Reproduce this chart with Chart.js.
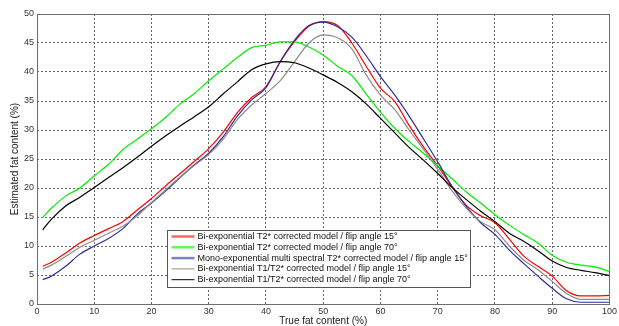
<!DOCTYPE html>
<html>
<head>
<meta charset="utf-8">
<script src="https://cdn.jsdelivr.net/npm/chart.js@4.4.1/dist/chart.umd.min.js"></script>
<style>
html, body { margin: 0; padding: 0; background: #fff; }
</style>
</head>
<body>
<canvas id="fatChart" width="619" height="326"></canvas>
<script>
// true fat content (%) sample positions
const trueFat = [1, 2.5, 5, 7.5, 10, 12.5, 15, 17.5, 20, 22.5, 25, 27.5, 30, 32.5, 35, 37.5, 40, 42.5, 45, 47.5,
  50, 52.5, 55, 57.5, 60, 62.5, 65, 67.5, 70, 72.5, 75, 77.5, 80, 82.5, 85, 87.5, 90, 92.5, 95, 97.5, 100];

const biT2_15 = [6.5, 7.2, 8.8, 10.5, 11.8, 13.0, 14.2, 16.2, 18.2, 20.4, 22.5, 24.6, 26.8, 29.6, 33.0, 35.6, 37.5, 41.8, 45.3, 47.9,
  48.7, 48.0, 45.0, 41.0, 37.2, 34.9, 30.8, 27.1, 23.8, 20.2, 17.0, 15.2, 14.0, 11.2, 8.3, 6.5, 4.8, 2.3, 1.4, 1.4, 1.5];
const biT2_70 = [14.9, 16.5, 18.6, 20.0, 22.1, 24.1, 26.6, 28.4, 30.2, 32.2, 34.5, 36.3, 38.5, 40.5, 42.5, 44.2, 44.6, 45.2, 45.2, 44.3,
  42.9, 41.0, 39.4, 36.2, 33.1, 30.3, 28.0, 26.0, 23.8, 21.6, 19.3, 17.4, 15.4, 13.6, 12.0, 10.5, 8.4, 7.2, 6.7, 6.4, 5.6];
const monoT2_15 = [4.2, 4.8, 6.5, 8.6, 10.0, 11.3, 13.0, 15.5, 17.4, 19.5, 21.8, 24.0, 26.0, 28.8, 32.4, 35.2, 37.3, 41.8, 45.5, 48.0,
  48.6, 47.8, 46.0, 42.8, 39.2, 36.0, 32.4, 28.5, 24.5, 20.3, 16.8, 14.0, 12.0, 9.3, 7.0, 4.8, 2.7, 0.9, 0.3, 0.3, 0.3];
const biT1T2_15 = [6.0, 6.7, 8.2, 9.8, 11.0, 12.2, 13.4, 15.2, 17.5, 19.7, 21.9, 23.9, 25.8, 28.4, 31.8, 34.3, 36.3, 38.5, 41.8, 45.0,
  46.4, 45.9, 44.0, 39.5, 36.0, 33.5, 30.0, 26.7, 23.2, 19.5, 16.5, 14.2, 12.8, 10.0, 7.6, 5.9, 3.9, 1.8, 0.8, 0.8, 0.8];
const biT1T2_70 = [12.8, 14.6, 16.9, 18.4, 20.1, 21.8, 23.5, 25.3, 27.2, 29.0, 30.7, 32.3, 34.0, 36.2, 38.3, 40.4, 41.4, 41.8, 41.6, 40.7,
  39.5, 38.2, 36.6, 34.5, 32.0, 29.5, 27.0, 24.8, 22.5, 20.1, 18.0, 16.0, 14.2, 12.2, 10.8, 9.2, 7.4, 6.3, 5.8, 5.4, 4.9];

const seriesLabels = [
  'Bi-exponential T2* corrected model / flip angle 15°',
  'Bi-exponential T2* corrected model / flip angle 70°',
  'Mono-exponential multi spectral T2* corrected model / flip angle 15°',
  'Bi-exponential T1/T2* corrected model / flip angle 15°',
  'Bi-exponential T1/T2* corrected model / flip angle 70°'
];
const seriesValues = [biT2_15, biT2_70, monoT2_15, biT1T2_15, biT1T2_70];
const seriesColors = ['#ff0000', '#00ee00', '#2e2e96', '#8c8c8c', '#000000'];
const legendSwatch = ['rgba(255,0,0,0.6)', 'rgba(0,238,0,0.6)', 'rgba(46,46,150,0.6)', '#8c8c8c', '#000000'];

const xTicks = [0, 10, 20, 30, 40, 50, 60, 70, 80, 90, 100];
const yTicks = [0, 5, 10, 15, 20, 25, 30, 35, 40, 45, 50];

const fontFam = '"Liberation Sans", Arial, sans-serif';

// frame round the plot and the boxed legend inside it
const framePlugin = {
  id: 'frame',
  afterDatasetsDraw(chart) {
    const ctx = chart.ctx;
    const a = chart.chartArea;
    ctx.save();
    ctx.strokeStyle = '#6e6e6e';
    ctx.lineWidth = 1;
    ctx.strokeRect(Math.round(a.left) + 0.5, Math.round(a.top) + 0.5,
      Math.round(a.right - a.left), Math.round(a.bottom - a.top));

    // legend
    const bx = 167.5, by = 230.5, bw = 303, bh = 57;
    ctx.fillStyle = '#fff';
    ctx.fillRect(bx, by, bw, bh);
    ctx.strokeStyle = '#555';
    ctx.strokeRect(bx, by, bw, bh);
    ctx.font = '9px ' + fontFam;
    ctx.textBaseline = 'middle';
    seriesLabels.forEach((lab, i) => {
      const y = by + 6 + i * 10.8;
      ctx.strokeStyle = legendSwatch[i];
      ctx.lineWidth = i < 3 ? 2.5 : 1;
      ctx.beginPath();
      ctx.moveTo(bx + 4, y);
      ctx.lineTo(bx + 27, y);
      ctx.stroke();
      ctx.fillStyle = '#111';
      ctx.fillText(lab, bx + 30, y);
    });
    ctx.restore();
  }
};

const ctx = document.getElementById('fatChart');
new Chart(ctx, {
  type: 'line',
  data: {
    datasets: seriesValues.map((vals, i) => ({
      label: seriesLabels[i],
      data: vals.map((v, j) => ({ x: trueFat[j], y: v })),
      borderColor: seriesColors[i],
      borderWidth: 1.2,
      pointRadius: 0,
      cubicInterpolationMode: 'monotone',
      order: 5 - i
    }))
  },
  options: {
    responsive: false,
    animation: false,
    layout: { padding: { top: 14, right: 7, left: 0, bottom: 0 } },
    plugins: { legend: { display: false }, tooltip: { enabled: false } },
    scales: {
      x: {
        type: 'linear',
        min: 0,
        max: 100,
        afterBuildTicks: s => { s.ticks = xTicks.map(v => ({ value: v })); },
        afterFit: s => { s.height = 22; },
        grid: { color: '#666', drawTicks: false },
        border: { display: false, dash: [2, 2] },
        ticks: { padding: 2, color: '#333', font: { family: fontFam, size: 9 }, maxRotation: 0 },
        title: {
          display: true,
          text: 'True fat content (%)',
          color: '#222',
          font: { family: fontFam, size: 10, lineHeight: 0.9 },
          padding: { top: 0, bottom: 0 }
        }
      },
      y: {
        min: 0,
        max: 50,
        afterBuildTicks: s => { s.ticks = yTicks.map(v => ({ value: v })); },
        afterFit: s => { s.width = 37; },
        grid: { color: '#666', drawTicks: false },
        border: { display: false, dash: [2, 2] },
        ticks: { padding: 3, color: '#333', font: { family: fontFam, size: 9 } },
        title: {
          display: true,
          text: 'Estimated fat content (%)',
          color: '#222',
          font: { family: fontFam, size: 10, lineHeight: 0.9 },
          padding: { top: 11, bottom: 0 }
        }
      }
    }
  },
  plugins: [framePlugin]
});
</script>
</body>
</html>
